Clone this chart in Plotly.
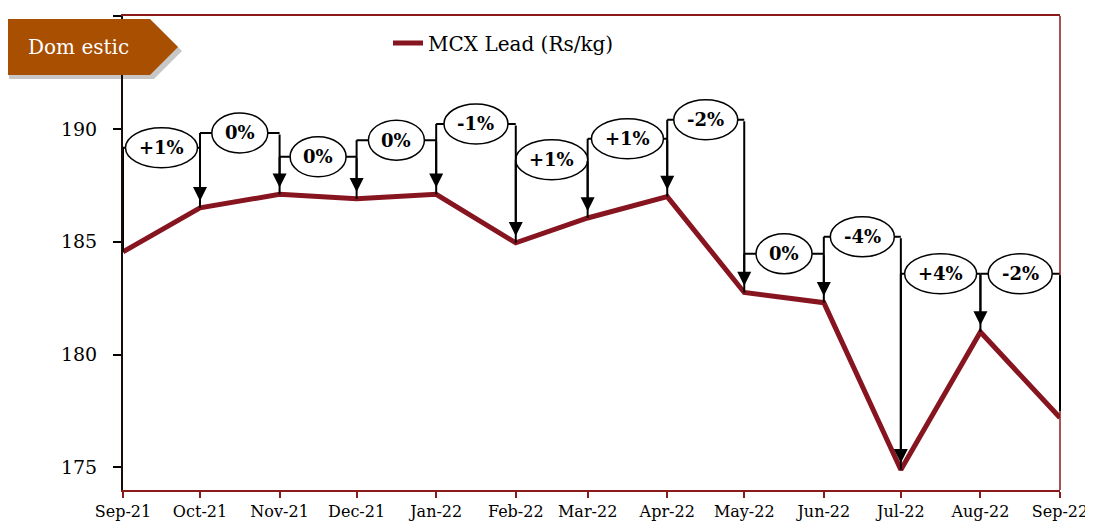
import plotly.graph_objects as go
import pandas as pd

# ---- data ----
months = ["2021-09-01", "2021-10-01", "2021-11-01", "2021-12-01", "2022-01-01", "2022-02-01",
          "2022-03-01", "2022-04-01", "2022-05-01", "2022-06-01", "2022-07-01", "2022-08-01",
          "2022-09-01"]
tick_labels = ["Sep-21", "Oct-21", "Nov-21", "Dec-21", "Jan-22", "Feb-22", "Mar-22",
               "Apr-22", "May-22", "Jun-22", "Jul-22", "Aug-22", "Sep-22"]
lead_price = [184.55, 186.5, 187.1, 186.9, 187.1, 184.95, 186.05, 187.0, 182.75, 182.3,
              174.9, 181.0, 177.2]
change_labels = ["+1%", "0%", "0%", "0%", "-1%", "+1%", "+1%", "-2%", "0%", "-4%", "+4%", "-2%"]
bracket_level = [189.16, 189.82, 188.76, 189.5, 190.22, 188.63, 189.56, 190.4, 184.47,
                 185.22, 183.58, 183.58]
y_ticks = [175, 180, 185, 190, 195]

LINE_RED = "#861520"
FRAME_RED = "#8b1a1a"
SERIF = "DejaVu Serif, Liberation Serif, serif"

# plot area in page pixels; the page offsets the figure by O px
L, R, T, B = 123, 1060, 16, 490
O = 8
W, H = 1093, 525


def px_x(px):
    return (px - L) / (R - L)


def px_y(py):
    return (B - py) / (B - T)


dates = pd.to_datetime(months)

fig = go.Figure()
fig.add_trace(go.Scatter(x=months, y=lead_price, mode="lines", name="MCX Lead (Rs/kg)",
                         line=dict(color=LINE_RED, width=5)))

shapes = []
annotations = []
n = len(change_labels)
for i in range(n):
    x0, x1 = months[i], months[i + 1]
    h = bracket_level[i]
    shapes.append(dict(type="line", xref="x", yref="y", x0=x0, x1=x0, y0=h, y1=lead_price[i],
                       line=dict(color="black", width=2)))
    shapes.append(dict(type="line", xref="x", yref="y", x0=x0, x1=x1, y0=h, y1=h,
                       line=dict(color="black", width=2)))
    last = i == n - 1
    annotations.append(dict(x=x1, y=lead_price[i + 1] + 0.3, ax=x1, ay=h, xref="x", yref="y",
                            axref="x", ayref="y", text="", showarrow=True,
                            arrowhead=0 if last else 2, arrowsize=1.4, arrowwidth=2,
                            arrowcolor="black"))

for i in range(n):
    mid = dates[i] + (dates[i + 1] - dates[i]) / 2
    lab = change_labels[i]
    w = 56 if lab == "0%" else (64 if lab.startswith("-") else 72)
    shapes.append(dict(type="circle", xref="x", yref="y", xsizemode="pixel", ysizemode="pixel",
                       xanchor=mid, yanchor=bracket_level[i], x0=-w / 2, x1=w / 2, y0=-20, y1=20,
                       fillcolor="white", line=dict(color="black", width=1.5)))
    annotations.append(dict(x=mid, y=bracket_level[i], xref="x", yref="y", text="<b>%s</b>" % lab,
                            showarrow=False, xanchor="center", yanchor="middle",
                            font=dict(family=SERIF, size=18, color="black")))

shapes.append(dict(type="line", xref="paper", yref="paper", x0=1, x1=1, y0=0, y1=1,
                   line=dict(color=FRAME_RED, width=1.5)))


def banner_path(dx, dy):
    pts = [(5, 19), (150, 19), (178, 47), (150, 75), (5, 75)]
    return "M " + " L ".join("%f,%f" % (px_x(x + dx), px_y(y + dy)) for x, y in pts) + " Z"


shapes.append(dict(type="path", xref="paper", yref="paper", path=banner_path(4, 4),
                   fillcolor="rgba(0,0,0,0.22)", line=dict(width=0)))
shapes.append(dict(type="path", xref="paper", yref="paper", path=banner_path(0, 0),
                   fillcolor="#a84f02", line=dict(width=0)))
annotations.append(dict(x=px_x(78), y=px_y(47), xref="paper", yref="paper", text="Dom estic",
                        showarrow=False, xanchor="center", yanchor="middle",
                        font=dict(family=SERIF, size=20, color="white")))

fig.update_layout(
    width=W, height=H,
    margin=dict(l=L - O, r=W - (R - O), t=T - O, b=H - (B - O), autoexpand=False),
    plot_bgcolor="white", paper_bgcolor="white",
    shapes=shapes, annotations=annotations,
    showlegend=True,
    legend=dict(x=px_x(388), y=px_y(43), xanchor="left", yanchor="middle", orientation="h",
                bgcolor="rgba(0,0,0,0)", font=dict(family=SERIF, size=20, color="black")),
    xaxis=dict(type="date", range=[months[0], months[-1]], tickvals=months, ticktext=tick_labels,
               showgrid=False, zeroline=False, showline=True, linecolor=FRAME_RED, linewidth=2,
               mirror=True, ticks="outside", tickcolor=FRAME_RED, ticklen=6, tickwidth=2,
               automargin=False,
               tickfont=dict(family=SERIF, size=16, color="black")),
    yaxis=dict(range=[174, 195], tickvals=y_ticks, ticktext=[str(v) for v in y_ticks],
               showgrid=False, zeroline=False, showline=True, linecolor="#1a0a0a", linewidth=2,
               ticks="outside", tickcolor="black", ticklen=8, tickwidth=2, automargin=False,
               ticklabelstandoff=12,
               tickfont=dict(family=SERIF, size=19, color="black")),
)

fig.write_html("out.html")
